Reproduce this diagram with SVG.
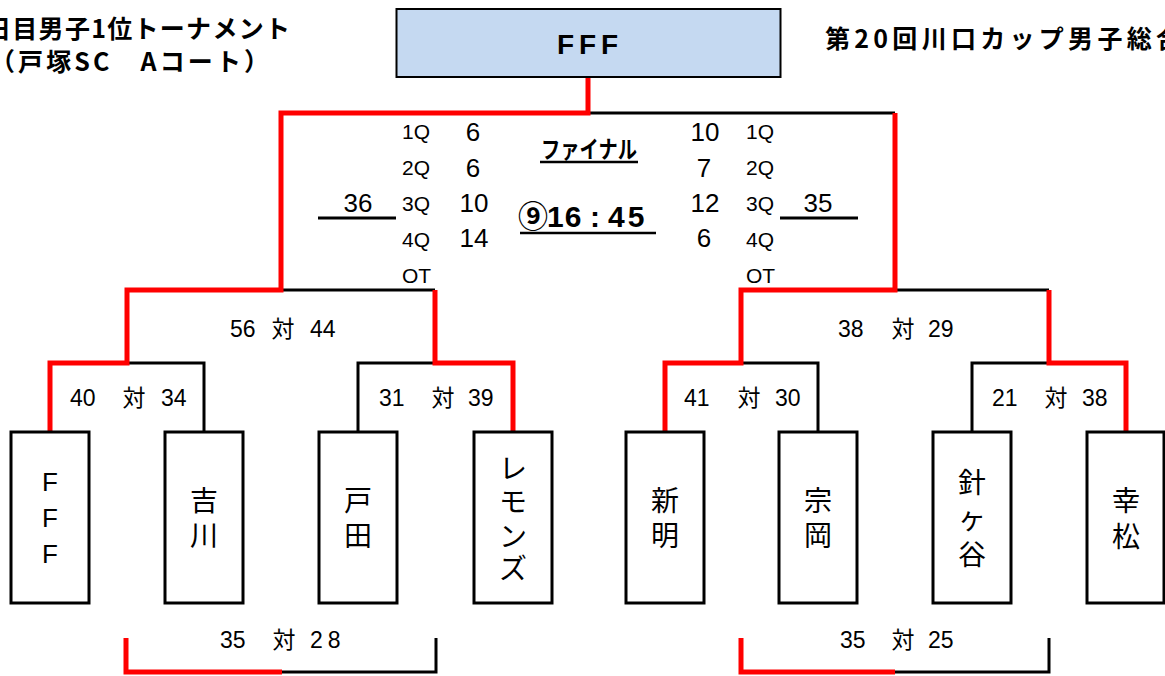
<svg xmlns="http://www.w3.org/2000/svg" width="1165" height="676" viewBox="0 0 1165 676">
<style>
.t{font-family:"Liberation Sans","Noto Sans CJK JP",sans-serif;fill:#000}
.j{font-family:"Noto Sans CJK JP","Liberation Sans",sans-serif;fill:#000}
.b{font-weight:bold}
.box{fill:#fff;stroke:#000;stroke-width:3}
.top{fill:#c5d9f1;stroke:#000;stroke-width:2}
.blk{fill:none;stroke:#000;stroke-width:3}
.red{fill:none;stroke:#ff0000;stroke-width:5;stroke-linejoin:miter}
.ul{stroke:#000;stroke-width:2.5}
.q{font-size:21px}
.s{font-size:26px;text-anchor:middle}
.m{font-size:23px}
.nm{font-size:28px;text-anchor:middle;dominant-baseline:central}
</style>
<rect width="1165" height="676" fill="#fff"/>

<g id="titles">
<text class="j b" x="-14" y="38" font-size="25" textLength="304" lengthAdjust="spacing">日目男子1位トーナメント</text>
<text class="j b" x="-10" y="71" font-size="25" textLength="279" lengthAdjust="spacing">（戸塚SC　Aコート）</text>
<text class="j b" x="825" y="48" font-size="25" textLength="356" lengthAdjust="spacing">第20回川口カップ男子総合</text>
</g>

<g id="connectors">
<path class="blk" d="M588,113 H895"/>
<path class="blk" d="M281,290 H435"/>
<path class="blk" d="M895,290 H1049"/>
<path class="blk" d="M127,363 H204 V432"/>
<path class="blk" d="M358,432 V363 H435"/>
<path class="blk" d="M741,363 H818 V432"/>
<path class="blk" d="M972,432 V363 H1049"/>
<path class="blk" d="M282,672 H436 V638"/>
<path class="blk" d="M895,672 H1049 V638"/>
<path class="red" d="M50,432 V363 H127 V290 H281 V113 H588 V77"/>
<path class="red" d="M513,432 V363 H435 V290"/>
<path class="red" d="M665,432 V363 H741 V290 H895 V113"/>
<path class="red" d="M1126,432 V363 H1049 V290"/>
<path class="red" d="M126,638 V672 H282"/>
<path class="red" d="M741,638 V672 H895"/>
</g>

<g id="node-final">
<rect class="top" x="396.5" y="9" width="384" height="68"/>
<text class="t b" x="557" y="54" font-size="28" textLength="61" lengthAdjust="spacing">FFF</text>
</g>

<g id="final-info">
<text class="j b" x="541" y="158" font-size="24" textLength="96" lengthAdjust="spacingAndGlyphs">ファイナル</text>
<line class="ul" x1="540" y1="162" x2="638" y2="162"/>
<text class="t b" y="227" font-size="30"><tspan x="518">⑨</tspan><tspan x="547" letter-spacing="1">16</tspan><tspan x="590">:</tspan><tspan x="608" letter-spacing="3">45</tspan></text>
<line class="ul" x1="520" y1="233" x2="656" y2="233"/>
</g>

<g id="score-left">
<text class="t q" x="402" y="139">1Q</text>
<text class="t q" x="402" y="175">2Q</text>
<text class="t q" x="402" y="211">3Q</text>
<text class="t q" x="402" y="247">4Q</text>
<text class="t q" x="402" y="283">OT</text>
<text class="t s" x="473" y="141">6</text>
<text class="t s" x="473" y="177">6</text>
<text class="t s" x="474" y="212">10</text>
<text class="t s" x="474" y="247">14</text>
<text class="t s" x="358" y="212">36</text>
<line class="blk" x1="318" y1="218" x2="396" y2="218"/>
</g>

<g id="score-right">
<text class="t q" x="746" y="139">1Q</text>
<text class="t q" x="746" y="175">2Q</text>
<text class="t q" x="746" y="211">3Q</text>
<text class="t q" x="746" y="247">4Q</text>
<text class="t q" x="746" y="283">OT</text>
<text class="t s" x="705" y="141">10</text>
<text class="t s" x="704" y="177">7</text>
<text class="t s" x="705" y="212">12</text>
<text class="t s" x="704" y="247">6</text>
<text class="t s" x="818" y="212">35</text>
<line class="blk" x1="780" y1="218" x2="858" y2="218"/>
</g>

<g id="match-scores">
<text class="t m" y="337"><tspan x="230">56</tspan><tspan x="265"> 対 </tspan><tspan x="310">44</tspan></text>
<text class="t m" y="406"><tspan x="70">40</tspan><tspan x="116"> 対 </tspan><tspan x="161">34</tspan></text>
<text class="t m" y="406"><tspan x="379">31</tspan><tspan x="425"> 対 </tspan><tspan x="468">39</tspan></text>
<text class="t m" y="337"><tspan x="838">38</tspan><tspan x="885"> 対 </tspan><tspan x="928">29</tspan></text>
<text class="t m" y="406"><tspan x="684">41</tspan><tspan x="731"> 対 </tspan><tspan x="775">30</tspan></text>
<text class="t m" y="406"><tspan x="992">21</tspan><tspan x="1038"> 対 </tspan><tspan x="1082">38</tspan></text>
<text class="t m" y="648"><tspan x="220">35</tspan><tspan x="266"> 対 </tspan><tspan x="310" letter-spacing="5">28</tspan></text>
<text class="t m" y="648"><tspan x="840">35</tspan><tspan x="885"> 対 </tspan><tspan x="928">25</tspan></text>
</g>

<g id="node-fff">
<rect class="box" x="11" y="432" width="78" height="171"/>
<text class="t" font-size="26" text-anchor="middle"><tspan x="50" y="491">F</tspan><tspan x="50" y="527">F</tspan><tspan x="50" y="563">F</tspan></text>
</g>
<g id="node-yoshikawa">
<rect class="box" x="165" y="432" width="78" height="171"/>
<text class="j nm"><tspan x="204" y="499">吉</tspan><tspan x="204" y="534">川</tspan></text>
</g>
<g id="node-toda">
<rect class="box" x="319" y="432" width="78" height="171"/>
<text class="j nm"><tspan x="358" y="499">戸</tspan><tspan x="358" y="534">田</tspan></text>
</g>
<g id="node-lemons">
<rect class="box" x="474" y="432" width="78" height="171"/>
<text class="j nm"><tspan x="513" y="467">レ</tspan><tspan x="513" y="500">モ</tspan><tspan x="513" y="535">ン</tspan><tspan x="513" y="567">ズ</tspan></text>
</g>
<g id="node-shinmei">
<rect class="box" x="626" y="432" width="78" height="171"/>
<text class="j nm"><tspan x="665" y="499">新</tspan><tspan x="665" y="534">明</tspan></text>
</g>
<g id="node-muneoka">
<rect class="box" x="779" y="432" width="78" height="171"/>
<text class="j nm"><tspan x="818" y="499">宗</tspan><tspan x="818" y="534">岡</tspan></text>
</g>
<g id="node-harigaya">
<rect class="box" x="933" y="432" width="78" height="171"/>
<text class="j nm"><tspan x="972" y="481">針</tspan><tspan x="972" y="517">ヶ</tspan><tspan x="972" y="553">谷</tspan></text>
</g>
<g id="node-koumatsu">
<rect class="box" x="1087" y="432" width="77" height="171"/>
<text class="j nm"><tspan x="1126" y="499">幸</tspan><tspan x="1126" y="535">松</tspan></text>
</g>
</svg>
